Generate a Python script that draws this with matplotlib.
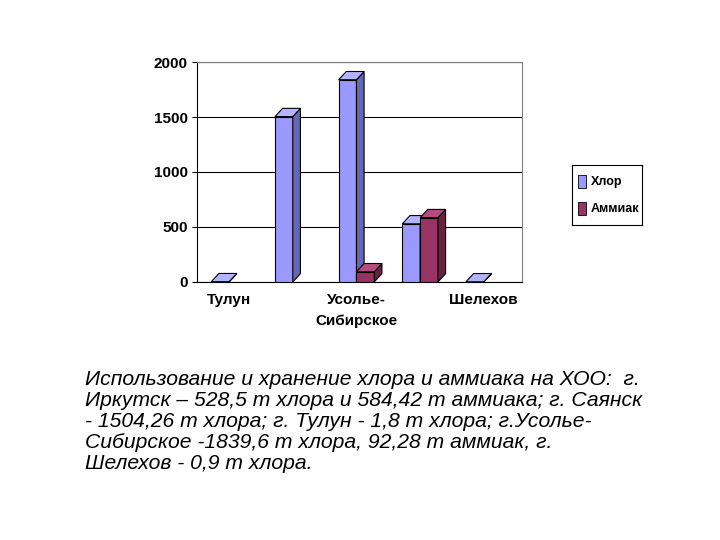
import matplotlib
matplotlib.use("Agg")
import matplotlib.pyplot as plt
from matplotlib.patches import Polygon

categories = ["Тулун", "", "Усолье-\nСибирское", "", "Шелехов"]
chlor = [1.8, 1504.26, 1839.6, 528.5, 0.9]
ammonia = [0, 0, 92.28, 584.42, 0]
series = ["Хлор", "Аммиак"]
colors = ["#9999FF", "#993366"]
side_colors = ["#6666B3", "#66223F"]
top_colors = ["#B3B3FF", "#B34D80"]

plt.rcParams['font.family'] = ['Liberation Sans', 'DejaVu Sans']
fig = plt.figure(figsize=(7.2, 5.4), dpi=100)
ax = fig.add_axes([0.274, 0.478, 0.451, 0.407])
ax.set_xlim(-0.5, 4.6)
ax.set_ylim(0, 2000)
ax.set_yticks([0, 500, 1000, 1500, 2000])
ax.grid(axis='y', color='black', lw=0.8)
ax.set_axisbelow(True)
for s in ax.spines.values():
    s.set_color('#808080')
ax.spines['left'].set_color('black')
ax.spines['bottom'].set_color('black')
ax.set_xticks(range(len(categories)))
ax.set_xticklabels(categories, fontsize=11, fontweight='bold', linespacing=1.6)
ax.tick_params(axis='x', length=0, pad=8)
ax.tick_params(axis='y', labelsize=11)
for l in ax.get_yticklabels():
    l.set_fontweight('bold')

w = 0.28
dx, dy = 0.12, 75

def bar3d(x0, h, c, sc, tc):
    ax.add_patch(Polygon([(x0, 0), (x0 + w, 0), (x0 + w, h), (x0, h)], closed=True, fc=c, ec='black', lw=0.8, zorder=3))
    ax.add_patch(Polygon([(x0 + w, 0), (x0 + w + dx, dy), (x0 + w + dx, h + dy), (x0 + w, h)], closed=True, fc=sc, ec='black', lw=0.8, zorder=3))
    ax.add_patch(Polygon([(x0, h), (x0 + w, h), (x0 + w + dx, h + dy), (x0 + dx, h + dy)], closed=True, fc=tc, ec='black', lw=0.8, zorder=3))

for i in range(len(categories)):
    bar3d(i - w, chlor[i], colors[0], side_colors[0], top_colors[0])
    if ammonia[i] > 0:
        bar3d(i, ammonia[i], colors[1], side_colors[1], top_colors[1])

lax = fig.add_axes([0.795, 0.583, 0.096, 0.111])
lax.set_xticks([]); lax.set_yticks([])
for s in lax.spines.values():
    s.set_color('black')
for k, (name, c) in enumerate(zip(series, colors)):
    y = 0.72 - k * 0.45
    lax.add_patch(plt.Rectangle((0.08, y - 0.1), 0.12, 0.22, fc=c, ec='black', lw=0.6, transform=lax.transAxes))
    lax.text(0.27, y, name, fontsize=9, fontweight='bold', va='center', transform=lax.transAxes)

caption = ("Использование и хранение хлора и аммиака на ХОО:  г.\n"
           "Иркутск – 528,5 т хлора и 584,42 т аммиака; г. Саянск\n"
           "- 1504,26 т хлора; г. Тулун - 1,8 т хлора; г.Усолье-\n"
           "Сибирское -1839,6 т хлора, 92,28 т аммиак, г.\n"
           "Шелехов - 0,9 т хлора.")
fig.text(85 / 720, 1 - 370 / 540, caption, fontsize=15.2, style='italic', va='top', ha='left', linespacing=1.13)

fig.savefig("out.png", dpi=100)
